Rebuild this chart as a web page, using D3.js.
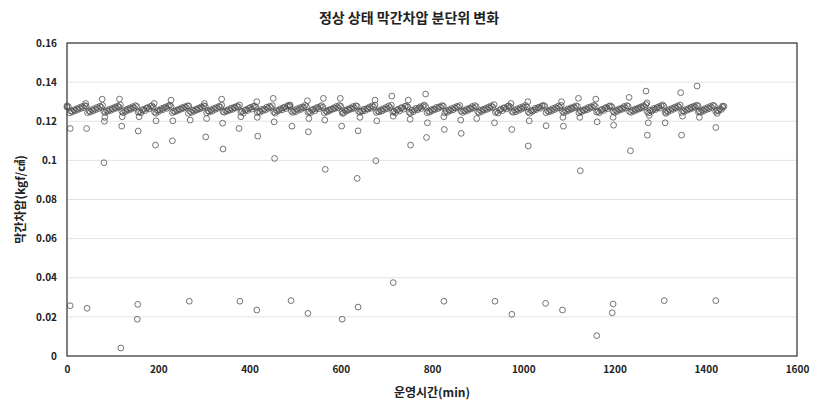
<!DOCTYPE html>
<html>
<head>
<meta charset="utf-8">
<script src="https://cdn.jsdelivr.net/npm/d3@7"></script>
<style>
	html, body { margin: 0; padding: 0; background: #fff; }
	svg text { font-family: 'Noto Sans CJK KR', 'Noto Sans', sans-serif; }
</style>
</head>
<body>
<div id="chart"></div>
<script>
/* global d3 */

// 1-minute log, sampled every 3 min for the dense sawtooth band (kgf/cm2)
const bandStepMin = 3;
const bandValues = [
	0.1279, 0.1274,
	0.1243, 0.1252, 0.1248, 0.1258, 0.1254, 0.1263, 0.1260, 0.1270, 0.1265, 0.1275, 0.1270, 0.1280, 0.1277,
	0.1244, 0.1253, 0.1247, 0.1259, 0.1253, 0.1264, 0.1259, 0.1271, 0.1265, 0.1277, 0.1271, 0.1281,
	0.1250, 0.1245, 0.1255, 0.1251, 0.1261, 0.1256, 0.1266, 0.1262, 0.1272, 0.1267, 0.1278, 0.1273, 0.1284,
	0.1251, 0.1244, 0.1256, 0.1250, 0.1262, 0.1257, 0.1268, 0.1262, 0.1274, 0.1268, 0.1280, 0.1275,
	0.1246, 0.1250, 0.1243, 0.1257, 0.1261, 0.1254, 0.1267, 0.1270, 0.1263, 0.1276, 0.1279, 0.1272,
	0.1247, 0.1241, 0.1256, 0.1250, 0.1257, 0.1265, 0.1259, 0.1268, 0.1273, 0.1266, 0.1277, 0.1282, 0.1276,
	0.1244, 0.1251, 0.1249, 0.1257, 0.1255, 0.1262, 0.1261, 0.1269, 0.1266, 0.1274, 0.1271, 0.1279, 0.1278,
	0.1250, 0.1245, 0.1257, 0.1251, 0.1261, 0.1258, 0.1267, 0.1263, 0.1273, 0.1269, 0.1279, 0.1276,
	0.1243, 0.1254, 0.1248, 0.1258, 0.1252, 0.1265, 0.1260, 0.1270, 0.1266, 0.1276, 0.1272, 0.1282,
	0.1249, 0.1246, 0.1254, 0.1252, 0.1260, 0.1257, 0.1267, 0.1261, 0.1271, 0.1268, 0.1277, 0.1274, 0.1283,
	0.1247, 0.1251, 0.1242, 0.1256, 0.1260, 0.1255, 0.1266, 0.1271, 0.1262, 0.1275, 0.1278, 0.1271,
	0.1245, 0.1252, 0.1246, 0.1260, 0.1254, 0.1263, 0.1258, 0.1272, 0.1266, 0.1276, 0.1270, 0.1280,
	0.1248, 0.1242, 0.1255, 0.1251, 0.1258, 0.1264, 0.1258, 0.1269, 0.1272, 0.1265, 0.1278, 0.1281, 0.1275,
	0.1252, 0.1245, 0.1255, 0.1249, 0.1263, 0.1256, 0.1269, 0.1261, 0.1273, 0.1269, 0.1281, 0.1274,
	0.1246, 0.1249, 0.1244, 0.1256, 0.1262, 0.1253, 0.1266, 0.1271, 0.1264, 0.1275, 0.1280, 0.1271,
	0.1243, 0.1253, 0.1247, 0.1257, 0.1255, 0.1262, 0.1261, 0.1269, 0.1266, 0.1276, 0.1269, 0.1281, 0.1276,
	0.1250, 0.1243, 0.1256, 0.1251, 0.1261, 0.1258, 0.1267, 0.1263, 0.1275, 0.1267, 0.1279, 0.1276,
	0.1251, 0.1246, 0.1254, 0.1252, 0.1262, 0.1255, 0.1265, 0.1263, 0.1273, 0.1266, 0.1279, 0.1272, 0.1283,
	0.1245, 0.1252, 0.1248, 0.1258, 0.1252, 0.1264, 0.1260, 0.1270, 0.1264, 0.1278, 0.1270, 0.1282,
	0.1247, 0.1251, 0.1243, 0.1258, 0.1260, 0.1253, 0.1268, 0.1270, 0.1262, 0.1277, 0.1279, 0.1273,
	0.1246, 0.1242, 0.1257, 0.1249, 0.1258, 0.1266, 0.1258, 0.1267, 0.1274, 0.1265, 0.1276, 0.1283, 0.1275,
	0.1244, 0.1252, 0.1247, 0.1259, 0.1254, 0.1263, 0.1260, 0.1271, 0.1265, 0.1274, 0.1272, 0.1280, 0.1277,
	0.1243, 0.1254, 0.1246, 0.1258, 0.1254, 0.1265, 0.1258, 0.1270, 0.1266, 0.1276, 0.1272, 0.1280,
	0.1252, 0.1245, 0.1255, 0.1251, 0.1262, 0.1256, 0.1267, 0.1263, 0.1275, 0.1268, 0.1280, 0.1274,
	0.1249, 0.1244, 0.1256, 0.1250, 0.1261, 0.1257, 0.1266, 0.1261, 0.1273, 0.1267, 0.1279, 0.1272, 0.1285,
	0.1245, 0.1250, 0.1242, 0.1257, 0.1262, 0.1254, 0.1268, 0.1269, 0.1263, 0.1277, 0.1278, 0.1271,
	0.1250, 0.1246, 0.1257, 0.1249, 0.1263, 0.1256, 0.1269, 0.1262, 0.1274, 0.1269, 0.1281, 0.1273,
	0.1248, 0.1241, 0.1255, 0.1251, 0.1256, 0.1266, 0.1260, 0.1269, 0.1272, 0.1267, 0.1278, 0.1281, 0.1277,
	0.1244, 0.1254, 0.1248, 0.1258, 0.1253, 0.1265, 0.1259, 0.1270, 0.1266, 0.1278, 0.1270, 0.1281,
	0.1251, 0.1244, 0.1255, 0.1251, 0.1263, 0.1257, 0.1268, 0.1263, 0.1273, 0.1269, 0.1279, 0.1275,
	0.1243, 0.1253, 0.1249, 0.1257, 0.1255, 0.1264, 0.1259, 0.1271, 0.1266, 0.1275, 0.1271, 0.1281, 0.1276,
	0.1247, 0.1250, 0.1244, 0.1256, 0.1261, 0.1255, 0.1266, 0.1271, 0.1264, 0.1276, 0.1279, 0.1273,
	0.1251, 0.1245, 0.1256, 0.1250, 0.1262, 0.1258, 0.1267, 0.1262, 0.1275, 0.1268, 0.1280, 0.1276,
	0.1250, 0.1246, 0.1256, 0.1251, 0.1262, 0.1257, 0.1267, 0.1263, 0.1273, 0.1268, 0.1279, 0.1274, 0.1285,
	0.1248, 0.1243, 0.1257, 0.1251, 0.1258, 0.1266, 0.1260, 0.1269, 0.1274, 0.1267, 0.1278, 0.1284, 0.1277,
	0.1246, 0.1255, 0.1249, 0.1260, 0.1255, 0.1266, 0.1261, 0.1272, 0.1267, 0.1278, 0.1273, 0.1283,
	0.1245, 0.1254, 0.1250, 0.1260, 0.1256, 0.1265, 0.1262, 0.1272, 0.1267, 0.1277, 0.1272, 0.1282, 0.1279,
	0.1253, 0.1246, 0.1258, 0.1252, 0.1264, 0.1259, 0.1270, 0.1264, 0.1276, 0.1270, 0.1282, 0.1277,
	0.1250, 0.1256, 0.1253, 0.1264, 0.1260, 0.1271, 0.1276
];

// backwash-time readings that leave the band: [minute, kgf/cm2]
const spikePoints = [
	[0, 0.1272], [7, 0.1163], [41, 0.1291], [43, 0.1163], [77, 0.1313], [81, 0.0988],
	[82, 0.1200], [83, 0.1220], [115, 0.1313], [120, 0.1175], [121, 0.1223], [156, 0.1150],
	[158, 0.1223], [191, 0.1291], [194, 0.1078], [195, 0.1202], [228, 0.1308], [231, 0.1100],
	[232, 0.1202], [266, 0.1240], [270, 0.1206], [301, 0.1291], [304, 0.1120], [306, 0.1214],
	[339, 0.1313], [341, 0.1190], [342, 0.1058], [377, 0.1163], [381, 0.1223], [416, 0.1300],
	[417, 0.1220], [418, 0.1124], [452, 0.1317], [454, 0.1197], [455, 0.1010], [489, 0.1283],
	[493, 0.1175], [527, 0.1305], [529, 0.1146], [530, 0.1214], [562, 0.1317], [565, 0.1206],
	[566, 0.0954], [599, 0.1317], [602, 0.1175], [604, 0.1240], [636, 0.0908], [638, 0.1151],
	[642, 0.1220], [675, 0.1308], [677, 0.0998], [679, 0.1202], [712, 0.1329], [715, 0.1226],
	[748, 0.1308], [752, 0.1210], [753, 0.1078], [786, 0.1339], [788, 0.1117], [790, 0.1192],
	[826, 0.1223], [827, 0.1158], [863, 0.1206], [864, 0.1138], [898, 0.1214], [937, 0.1192],
	[973, 0.1291], [975, 0.1158], [1010, 0.1300], [1011, 0.1074], [1013, 0.1202], [1050, 0.1177],
	[1084, 0.1300], [1087, 0.1220], [1088, 0.1175], [1121, 0.1317], [1124, 0.1220], [1125, 0.0947],
	[1159, 0.1313], [1162, 0.1197], [1197, 0.1220], [1198, 0.1180], [1232, 0.1322], [1235, 0.1049],
	[1269, 0.1354], [1271, 0.1294], [1272, 0.1129], [1274, 0.1192], [1276, 0.1230], [1311, 0.1192],
	[1313, 0.1240], [1345, 0.1346], [1347, 0.1129], [1349, 0.1226], [1381, 0.1380], [1384, 0.1247],
	[1386, 0.1220], [1422, 0.1168], [1425, 0.1240], [1437, 0.1278]
];

const lowPoints = [
	[7, 0.0257], [44, 0.0244], [118, 0.0041], [154, 0.0188], [155, 0.0264], [268, 0.0280],
	[379, 0.0280], [416, 0.0235], [491, 0.0283], [528, 0.0218], [603, 0.0188], [638, 0.0250],
	[715, 0.0375], [826, 0.0280], [938, 0.0280], [975, 0.0213], [1049, 0.0269], [1086, 0.0235],
	[1161, 0.0104], [1195, 0.0221], [1197, 0.0266], [1309, 0.0283], [1422, 0.0283]
];

const xTicks = [ 0, 200, 400, 600, 800, 1000, 1200, 1400, 1600 ];
const yTicks = [ 0, 0.02, 0.04, 0.06, 0.08, 0.1, 0.12, 0.14, 0.16 ];

const chartTitle = '정상 상태 막간차압 분단위 변화';
const xTitle = '운영시간(min)';
const yTitle = '막간차압(kgf/㎠)';

const width = 818;
const height = 411;
const margin = { top: 43, right: 21, bottom: 55, left: 67 };

const svg = d3.select( '#chart' )
	.append( 'svg' )
	.attr( 'width', width )
	.attr( 'height', height );

const x = d3.scaleLinear()
	.domain( [ 0, 1600 ] )
	.range( [ margin.left, width - margin.right ] );

const y = d3.scaleLinear()
	.domain( [ 0, 0.16 ] )
	.range( [ height - margin.bottom, margin.top ] );

// gridlines
svg.append( 'g' )
	.selectAll( 'line' )
	.data( yTicks.slice( 1, -1 ) )
	.join( 'line' )
	.attr( 'x1', x( 0 ) )
	.attr( 'x2', x( 1600 ) )
	.attr( 'y1', ( d ) => y( d ) )
	.attr( 'y2', ( d ) => y( d ) )
	.attr( 'stroke', '#e3e3e3' )
	.attr( 'stroke-width', 1 );

const points = bandValues
	.map( ( v, i ) => [ i * bandStepMin, v ] )
	.concat( spikePoints, lowPoints );

svg.append( 'g' )
	.selectAll( 'circle' )
	.data( points )
	.join( 'circle' )
	.attr( 'cx', ( d ) => x( d[ 0 ] ) )
	.attr( 'cy', ( d ) => y( d[ 1 ] ) )
	.attr( 'r', 2.9 )
	.attr( 'fill', 'none' )
	.attr( 'stroke', '#505050' )
	.attr( 'stroke-width', 0.8 );

// plot frame
svg.append( 'rect' )
	.attr( 'x', x( 0 ) )
	.attr( 'y', y( 0.16 ) )
	.attr( 'width', x( 1600 ) - x( 0 ) )
	.attr( 'height', y( 0 ) - y( 0.16 ) )
	.attr( 'fill', 'none' )
	.attr( 'stroke', '#3c3c3c' )
	.attr( 'stroke-width', 1.3 );

const xAxis = svg.append( 'g' )
	.attr( 'transform', `translate(0,${ y( 0 ) })` )
	.call( d3.axisBottom( x ).tickValues( xTicks ).tickFormat( d3.format( 'd' ) ).tickSize( 0 ).tickPadding( 10 ) );

const yAxis = svg.append( 'g' )
	.attr( 'transform', `translate(${ x( 0 ) },0)` )
	.call( d3.axisLeft( y ).tickValues( yTicks ).tickFormat( d3.format( '~g' ) ).tickSize( 0 ).tickPadding( 10 ) );

[ xAxis, yAxis ].forEach( ( axis ) => {
	axis.select( '.domain' ).remove();
	axis.selectAll( 'text' )
		.attr( 'fill', '#222' )
		.style( 'font-size', '10px' )
		.style( 'font-weight', '700' );
} );

svg.append( 'text' )
	.attr( 'x', width / 2 )
	.attr( 'y', 23 )
	.attr( 'text-anchor', 'middle' )
	.style( 'font-size', '14px' )
	.style( 'font-weight', '700' )
	.attr( 'fill', '#222' )
	.text( chartTitle );

svg.append( 'text' )
	.attr( 'x', ( x( 0 ) + x( 1600 ) ) / 2 )
	.attr( 'y', 397 )
	.attr( 'text-anchor', 'middle' )
	.style( 'font-size', '12px' )
	.style( 'font-weight', '700' )
	.attr( 'fill', '#222' )
	.text( xTitle );

svg.append( 'text' )
	.attr( 'transform', `translate(25,${ ( y( 0 ) + y( 0.16 ) ) / 2 }) rotate(-90)` )
	.attr( 'text-anchor', 'middle' )
	.style( 'font-size', '12px' )
	.style( 'font-weight', '700' )
	.attr( 'fill', '#222' )
	.text( yTitle );
</script>
</body>
</html>
